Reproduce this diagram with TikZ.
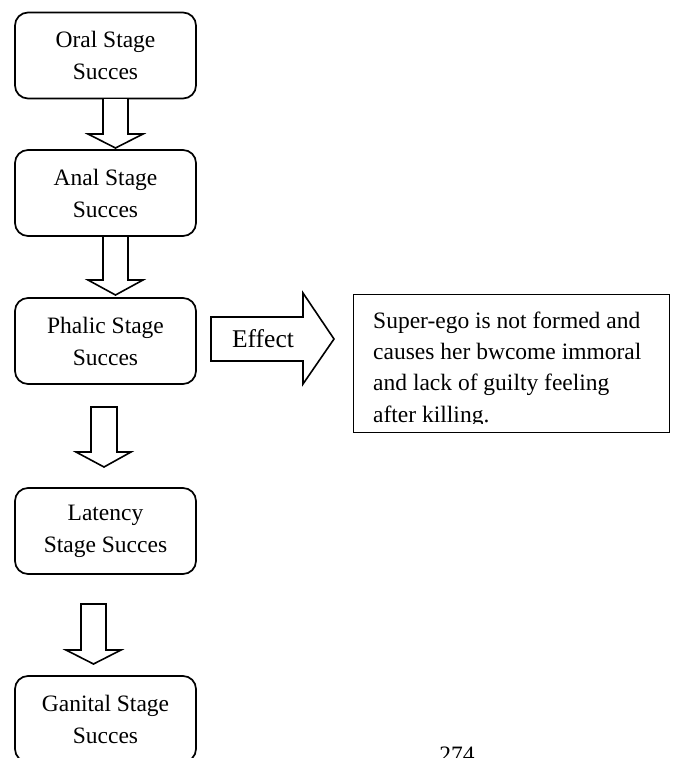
\documentclass[tikz,border=0pt]{standalone}
\usepackage{fontspec}
\setmainfont{Liberation Serif}
\begin{document}
\begin{tikzpicture}[x=1pt,y=-1pt,
  stagebox/.style={draw, line width=1.7pt, rounded corners=13pt, minimum width=181pt, minimum height=86pt, align=center, font=\fontsize{23.5}{32}\selectfont, inner sep=0pt},
  blockarrow/.style={draw, line width=1.6pt, fill=white, line join=miter},
  txt/.style={font=\fontsize{23.5}{31.3}\selectfont, inner sep=0pt}]
\useasboundingbox (0,0) rectangle (674,758);
\clip (0,0) rectangle (674,758);
\fill[white] (0,0) rectangle (674,758);

% stage boxes
\node[stagebox] (oral) at (105.5,55.5) {Oral Stage\\Succes};
\node[stagebox] (anal) at (105.5,193) {Anal Stage\\Succes};
\node[stagebox] (phalic) at (105.5,341) {Phalic Stage\\Succes};
\node[stagebox] (latency) at (105.5,531) {Latency\\Stage Succes};
\node[stagebox] (ganital) at (105.5,719) {Ganital Stage\\Succes};

% block arrows (down)
\draw[blockarrow] (103,99) -- (103,134) -- (88,134) -- (115.5,148) -- (143,134) -- (128,134) -- (128,99);
\draw[blockarrow] (103,237) -- (103,280) -- (88,280) -- (115.5,295) -- (143,280) -- (128,280) -- (128,237);
\draw[blockarrow] (91,407) -- (91,452) -- (76,452) -- (104,467) -- (131,452) -- (117,452) -- (117,407) -- cycle;
\draw[blockarrow] (81,604) -- (81,650) -- (66,650) -- (93.5,664) -- (121,650) -- (106,650) -- (106,604) -- cycle;

% effect arrow
\draw[blockarrow] (211,317) -- (303,317) -- (303,293) -- (334,339) -- (303,384) -- (303,361) -- (211,361) -- cycle;
\node[txt, font=\fontsize{25.5}{30}\selectfont] (effect) at (263,339) {Effect};

% effect box
\node[draw, line width=1.6pt, minimum width=316pt, minimum height=138pt, inner sep=0pt] (superego) at (511.5,363.5) {};
\begin{scope}
\clip (355,296) rectangle (668,423.5);
\node[txt, anchor=north west, align=left] (superegotext) at (373,311.6) {Super-ego is not formed and\\causes her bwcome immoral\\and lack of guilty feeling\\after killing.};
\end{scope}

% page number (cut off at the page edge, as in the reference)
\node[txt, anchor=base] (page) at (457,762) {274};
\end{tikzpicture}
\end{document}
